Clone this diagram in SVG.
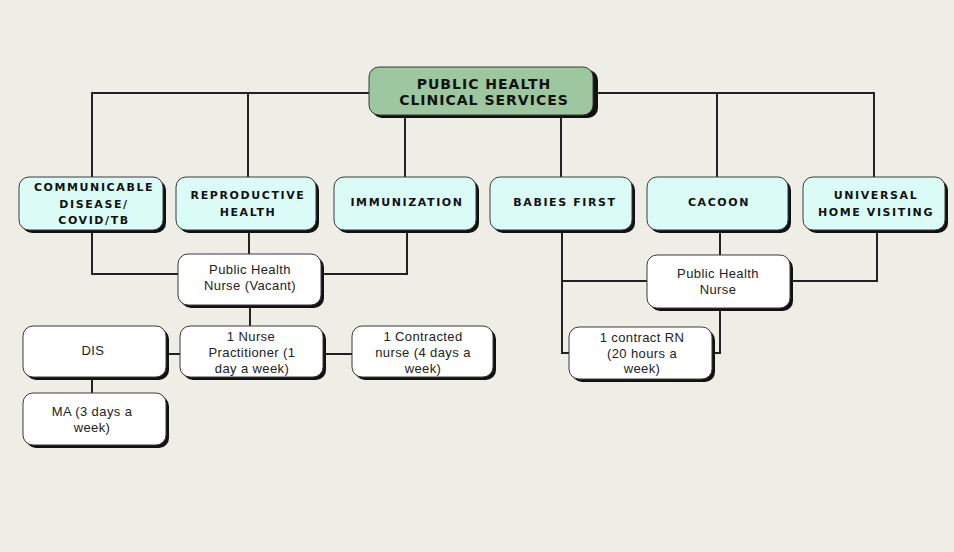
<svg xmlns="http://www.w3.org/2000/svg" width="954" height="552" viewBox="0 0 954 552">
<defs>
<style>
.bg{fill:#efeee6}
.sh{fill:#111}
.box{stroke:#3a3a3a;stroke-width:1}
.root{fill:#9dc79e}
.cat{fill:#dbfcf6}
.wh{fill:#ffffff}
.ln{fill:none;stroke:#222;stroke-width:2}
.h1{font-family:"DejaVu Sans","Liberation Sans",sans-serif;font-weight:bold;font-size:14px;letter-spacing:1px;fill:#111;text-anchor:middle}
.h2{font-family:"DejaVu Sans","Liberation Sans",sans-serif;font-weight:bold;font-size:11px;letter-spacing:1.6px;fill:#111;text-anchor:middle}
.t{font-family:"Liberation Sans",Arial,sans-serif;font-size:13px;letter-spacing:0.4px;fill:#222;text-anchor:middle}
</style>
</defs>
<rect class="bg" x="0" y="0" width="954" height="552"/>
<g id="connectors">
<polyline class="ln" points="369,93 92,93 92,177"/>
<line class="ln" x1="248" y1="93" x2="248" y2="177"/>
<polyline class="ln" points="595,93 874,93 874,177"/>
<line class="ln" x1="717" y1="93" x2="717" y2="177"/>
<line class="ln" x1="405" y1="116" x2="405" y2="177"/>
<line class="ln" x1="561" y1="116" x2="561" y2="177"/>
<polyline class="ln" points="92,231 92,274 178,274"/>
<polyline class="ln" points="407,231 407,274 321,274"/>
<line class="ln" x1="249" y1="231" x2="249" y2="254"/>
<line class="ln" x1="250" y1="305" x2="250" y2="326"/>
<line class="ln" x1="166" y1="354" x2="180" y2="354"/>
<line class="ln" x1="323" y1="354" x2="352" y2="354"/>
<line class="ln" x1="92" y1="377" x2="92" y2="393"/>
<line class="ln" x1="720" y1="231" x2="720" y2="255"/>
<polyline class="ln" points="562,231 562,353 569,353"/>
<line class="ln" x1="562" y1="281" x2="647" y2="281"/>
<polyline class="ln" points="877,231 877,281 790,281"/>
<polyline class="ln" points="720,308 720,353 712,353"/>
</g>
<g id="root">
<rect class="sh" x="372" y="70" width="226" height="48" rx="10"/>
<rect class="box root" x="369" y="67" width="224" height="48" rx="10"/>
<text class="h1" x="484" y="89">PUBLIC HEALTH</text>
<text class="h1" x="484" y="105">CLINICAL SERVICES</text>
</g>
<g id="communicable">
<rect class="sh" x="22" y="180" width="144" height="53" rx="10"/>
<rect class="box cat" x="19" y="177" width="144" height="53" rx="10"/>
<text class="h2" x="94" y="191">COMMUNICABLE</text>
<text class="h2" x="94" y="207.5">DISEASE/</text>
<text class="h2" x="94" y="224">COVID/TB</text>
</g>
<g id="reproductive">
<rect class="sh" x="179" y="180" width="140" height="53" rx="10"/>
<rect class="box cat" x="176" y="177" width="140" height="53" rx="10"/>
<text class="h2" x="248" y="199">REPRODUCTIVE</text>
<text class="h2" x="248" y="216">HEALTH</text>
</g>
<g id="immunization">
<rect class="sh" x="337" y="180" width="142" height="53" rx="10"/>
<rect class="box cat" x="334" y="177" width="142" height="53" rx="10"/>
<text class="h2" x="407" y="206">IMMUNIZATION</text>
</g>
<g id="babies-first">
<rect class="sh" x="493" y="180" width="142" height="53" rx="10"/>
<rect class="box cat" x="490" y="177" width="142" height="53" rx="10"/>
<text class="h2" x="565" y="206">BABIES FIRST</text>
</g>
<g id="cacoon">
<rect class="sh" x="650" y="180" width="141" height="53" rx="10"/>
<rect class="box cat" x="647" y="177" width="141" height="53" rx="10"/>
<text class="h2" x="719" y="206">CACOON</text>
</g>
<g id="universal">
<rect class="sh" x="806" y="180" width="142" height="53" rx="10"/>
<rect class="box cat" x="803" y="177" width="142" height="53" rx="10"/>
<text class="h2" x="876" y="199">UNIVERSAL</text>
<text class="h2" x="876" y="216">HOME VISITING</text>
</g>
<g id="phn-vacant">
<rect class="sh" x="181" y="257" width="143" height="51" rx="10"/>
<rect class="box wh" x="178" y="254" width="143" height="51" rx="10"/>
<text class="t" x="250" y="274">Public Health</text>
<text class="t" x="250" y="290">Nurse (Vacant)</text>
</g>
<g id="dis">
<rect class="sh" x="26" y="329" width="143" height="51" rx="10"/>
<rect class="box wh" x="23" y="326" width="143" height="51" rx="10"/>
<text class="t" x="93" y="355">DIS</text>
</g>
<g id="nurse-practitioner">
<rect class="sh" x="183" y="329" width="143" height="51" rx="10"/>
<rect class="box wh" x="180" y="326" width="143" height="51" rx="10"/>
<text class="t" x="251" y="341">1 Nurse</text>
<text class="t" x="252" y="357">Practitioner (1</text>
<text class="t" x="252" y="373">day a week)</text>
</g>
<g id="contracted-nurse">
<rect class="sh" x="355" y="329" width="141" height="51" rx="10"/>
<rect class="box wh" x="352" y="326" width="141" height="51" rx="10"/>
<text class="t" x="423" y="341">1 Contracted</text>
<text class="t" x="423" y="357">nurse (4 days a</text>
<text class="t" x="423" y="373">week)</text>
</g>
<g id="ma">
<rect class="sh" x="26" y="396" width="143" height="52" rx="10"/>
<rect class="box wh" x="23" y="393" width="143" height="52" rx="10"/>
<text class="t" x="92" y="416">MA (3 days a</text>
<text class="t" x="92" y="432">week)</text>
</g>
<g id="phn">
<rect class="sh" x="650" y="258" width="143" height="53" rx="10"/>
<rect class="box wh" x="647" y="255" width="143" height="53" rx="10"/>
<text class="t" x="718" y="278">Public Health</text>
<text class="t" x="718" y="294">Nurse</text>
</g>
<g id="contract-rn">
<rect class="sh" x="572" y="330" width="143" height="52" rx="10"/>
<rect class="box wh" x="569" y="327" width="143" height="52" rx="10"/>
<text class="t" x="642" y="342">1 contract RN</text>
<text class="t" x="642" y="358">(20 hours a</text>
<text class="t" x="642" y="373">week)</text>
</g>
</svg>
